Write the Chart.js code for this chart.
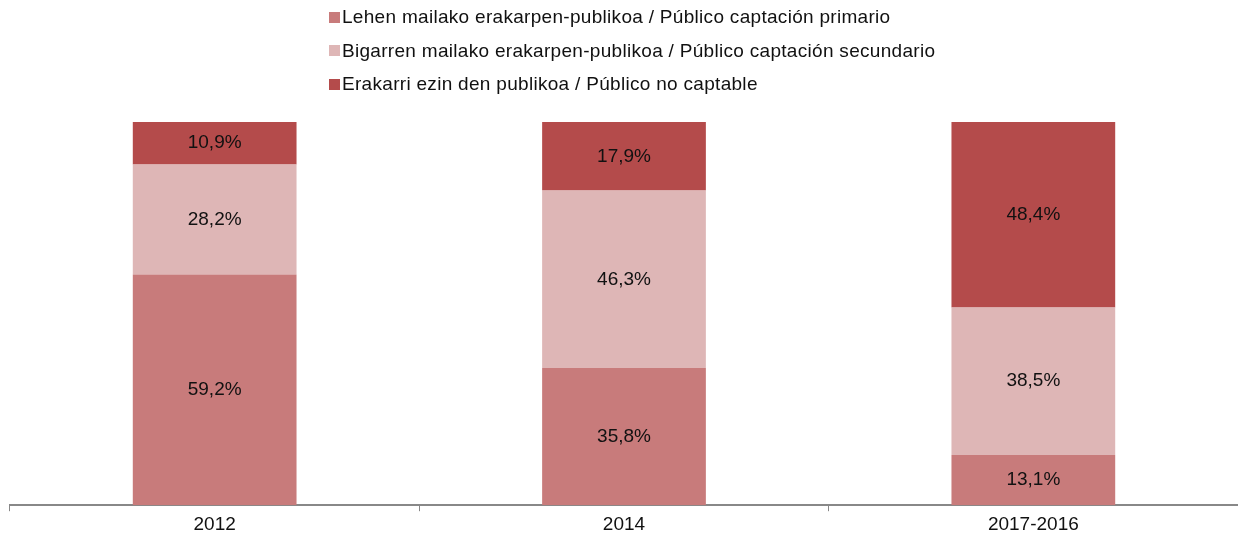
<!DOCTYPE html>
<html>
<head>
<meta charset="utf-8">
<script src="https://cdn.jsdelivr.net/npm/chart.js@4/dist/chart.umd.min.js"></script>
<style>
  html, body { margin: 0; padding: 0; background: #fff; }
  #wrap { position: relative; width: 1238px; height: 540px; }
  #legend { position: absolute; left: 329px; top: 6px; font-family: 'Liberation Sans', Arial, sans-serif;
            font-size: 19px; color: #111; letter-spacing: 0.3px; }
  #legend div { display: flex; align-items: center; height: 22px; margin-bottom: 11.5px; white-space: nowrap; }
  #legend span.box { display: inline-block; width: 11px; height: 11px; margin-right: 2px; }
</style>
</head>
<body>
<div id="wrap">
  <canvas id="chart" width="1238" height="540"></canvas>
  <div id="legend"></div>
</div>
<script>
(function () {
    /* ── Data ──────────────────────────────────────────── */
    const categories = ['2012', '2014', '2017-2016'];
    const primary    = [59.2, 35.8, 13.1];   // Lehen mailako
    const secondary  = [28.2, 46.3, 38.5];   // Bigarren mailako
    const notReach   = [10.9, 17.9, 48.4];   // Erakarri ezin den

    const seriesNames = [
        'Lehen mailako erakarpen-publikoa / Público captación primario',
        'Bigarren mailako erakarpen-publikoa / Público captación secundario',
        'Erakarri ezin den publikoa / Público no captable'
    ];
    const colors = ['#c87b7b', '#deb6b6', '#b44b4b'];

    const raw = [primary, secondary, notReach];
    // 100% stacked: each bar scaled to its own total
    const totals = categories.map((_, i) => raw.reduce((s, arr) => s + arr[i], 0));
    const shares = raw.map(arr => arr.map((v, i) => v / totals[i] * 100));

    const FONT = "'Liberation Sans', Arial, sans-serif";

    /* ── HTML legend (vertical list) ───────────────────── */
    const legendEl = document.getElementById('legend');
    seriesNames.forEach((name, i) => {
        const row = document.createElement('div');
        row.innerHTML = '<span class="box" style="background:' + colors[i] + '"></span>' + name;
        legendEl.appendChild(row);
    });

    /* ── Value labels inside segments ──────────────────── */
    const barLabels = {
        id: 'barLabels',
        afterDatasetsDraw(chart) {
            const ctx = chart.ctx;
            ctx.save();
            ctx.font = '19px ' + FONT;
            ctx.fillStyle = '#111';
            ctx.textAlign = 'center';
            ctx.textBaseline = 'middle';
            chart.data.datasets.forEach((ds, di) => {
                chart.getDatasetMeta(di).data.forEach((bar, i) => {
                    const mid = (bar.y + bar.base) / 2;
                    ctx.fillText(raw[di][i].toFixed(1).replace('.', ',') + '%', bar.x, mid);
                });
            });
            ctx.restore();
        }
    };

    new Chart(document.getElementById('chart'), {
        type: 'bar',
        data: {
            labels: categories,
            datasets: shares.map((d, i) => ({
                label: seriesNames[i],
                data: d,
                backgroundColor: colors[i],
                borderWidth: 0,
                categoryPercentage: 1,
                barPercentage: 0.4
            }))
        },
        options: {
            responsive: false,
            animation: false,
            layout: { padding: { top: 122, left: 10, right: 0, bottom: 2 } },
            plugins: {
                legend: { display: false },
                tooltip: { enabled: false }
            },
            scales: {
                x: {
                    stacked: true,
                    grid: {
                        offset: true,
                        drawOnChartArea: false,
                        drawTicks: true,
                        tickLength: 6,
                        color: '#888888',
                        lineWidth: 1
                    },
                    border: { display: true, color: '#888888', width: 2 },
                    ticks: { color: '#111', font: { family: FONT, size: 19 }, padding: 2 }
                },
                y: {
                    stacked: true,
                    display: false,
                    min: 0,
                    max: 100
                }
            }
        },
        plugins: [barLabels]
    });
})();
</script>
</body>
</html>
